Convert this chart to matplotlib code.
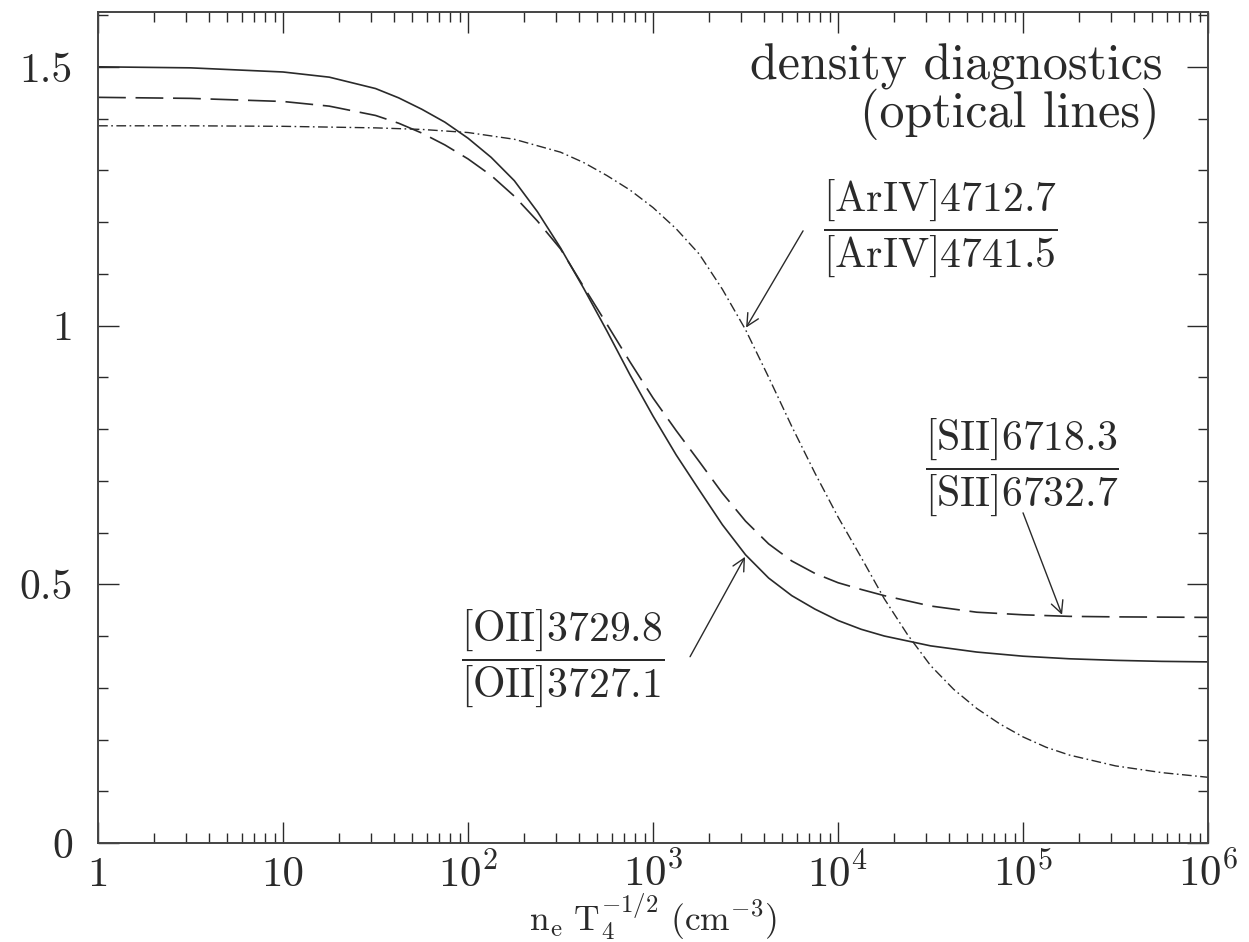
import numpy as np
import matplotlib
matplotlib.use("Agg")
import matplotlib.pyplot as plt
from matplotlib.ticker import LogLocator, MultipleLocator, NullFormatter

plt.rcParams['font.family'] = 'cmr10'
plt.rcParams['mathtext.fontset'] = 'cm'
plt.rcParams['axes.unicode_minus'] = False
plt.rcParams['axes.formatter.use_mathtext'] = True
plt.rcParams['lines.scale_dashes'] = False

# curves (log10 of n_e T4^-1/2, line ratio)
oii_logx = [0.0, 0.5, 1.0, 1.25, 1.5, 1.625, 1.75, 1.875, 2.0, 2.125, 2.25, 2.375, 2.5,
            2.625, 2.75, 2.875, 3.0, 3.125, 3.25, 3.375, 3.5, 3.625, 3.75, 3.875, 4.0,
            4.125, 4.25, 4.5, 4.75, 5.0, 5.25, 5.5, 5.75, 6.0]
oii_ratio = [1.500, 1.498, 1.490, 1.480, 1.458, 1.440, 1.418, 1.393, 1.362, 1.325, 1.280,
             1.220, 1.150, 1.072, 0.990, 0.905, 0.825, 0.750, 0.682, 0.615, 0.557, 0.512,
             0.478, 0.452, 0.430, 0.413, 0.400, 0.381, 0.369, 0.361, 0.356, 0.353, 0.351,
             0.350]

sii_logx = [0.0, 0.5, 1.0, 1.25, 1.5, 1.625, 1.75, 1.875, 2.0, 2.125, 2.25, 2.375, 2.5,
            2.625, 2.75, 2.875, 3.0, 3.125, 3.25, 3.375, 3.5, 3.625, 3.75, 3.875, 4.0,
            4.125, 4.25, 4.5, 4.75, 5.0, 5.25, 5.5, 6.0]
sii_ratio = [1.441, 1.439, 1.433, 1.424, 1.406, 1.391, 1.372, 1.349, 1.322, 1.290, 1.250,
             1.202, 1.148, 1.075, 1.003, 0.930, 0.860, 0.797, 0.737, 0.676, 0.622, 0.578,
             0.545, 0.521, 0.503, 0.490, 0.478, 0.458, 0.446, 0.441, 0.438, 0.437, 0.436]

ariv_logx = [0.0, 0.5, 1.0, 1.5, 1.75, 2.0, 2.25, 2.5, 2.625, 2.75, 2.875, 3.0, 3.125,
             3.25, 3.375, 3.5, 3.625, 3.75, 3.875, 4.0, 4.125, 4.25, 4.375, 4.5, 4.625,
             4.75, 4.875, 5.0, 5.125, 5.25, 5.5, 5.75, 6.0]
ariv_ratio = [1.386, 1.386, 1.385, 1.382, 1.379, 1.373, 1.360, 1.335, 1.315, 1.290, 1.262,
              1.228, 1.187, 1.138, 1.070, 0.992, 0.900, 0.805, 0.715, 0.630, 0.552, 0.472,
              0.403, 0.343, 0.297, 0.260, 0.230, 0.205, 0.185, 0.170, 0.149, 0.136, 0.127]

xticks = [1, 10, 1e2, 1e3, 1e4, 1e5, 1e6]
xticklabels = ['1', '10', r'$10^2$', r'$10^3$', r'$10^4$', r'$10^5$', r'$10^6$']
yticks = [0, 0.5, 1, 1.5]
yticklabels = ['0', '0.5', '1', '1.5']

ink = '#2a2a2a'

fig = plt.figure(figsize=(12.49, 9.42), dpi=100)
ax = fig.add_axes([0.0785, 0.1051, 0.8887, 0.8822])

ax.plot(10 ** np.array(oii_logx), oii_ratio, color=ink, lw=1.2)
ax.plot(10 ** np.array(sii_logx), sii_ratio, color=ink, lw=1.2, dashes=(20, 7))
ax.plot(10 ** np.array(ariv_logx), ariv_ratio, color=ink, lw=1.0, dashes=(7, 2.5, 1.2, 2.5))

ax.set_xscale('log')
ax.set_xlim(1, 1e6)
ax.set_ylim(0, 1.606)

ax.set_xticks(xticks)
ax.set_xticklabels([])
ax.xaxis.set_minor_locator(LogLocator(base=10, subs=np.arange(2, 10)))
ax.xaxis.set_minor_formatter(NullFormatter())
ax.set_yticks(yticks)
ax.set_yticklabels(yticklabels)
ax.yaxis.set_minor_locator(MultipleLocator(0.1))

ax.tick_params(which='both', direction='in', top=True, right=True, colors=ink)
ax.tick_params(which='major', length=15, width=1.0, labelsize=30, pad=18)
ax.tick_params(which='minor', length=7.5, width=1.0)
for s in ax.spines.values():
    s.set_color('#444444')
    s.set_linewidth(1.4)

# x tick labels aligned on a common baseline
xtr = ax.get_xaxis_transform()
for xv, lab in zip(xticks, xticklabels):
    ax.text(xv, -0.052, lab, transform=xtr, ha='center', va='baseline',
            fontsize=31, color=ink)

ax.set_xlabel(r'$\mathrm{n_e\ T_4^{-1/2}\ (cm^{-3})}$', fontsize=25.5, color=ink)
ax.xaxis.label.set_va('baseline')
ax.xaxis.set_label_coords(0.5, -0.1055)

# title text
ax.text(5.7e5, 1.475, 'density diagnostics', ha='right', va='baseline',
        fontsize=36, color=ink)
ax.text(5.5e5, 1.384, '(optical lines)', ha='right', va='baseline',
        fontsize=36, color=ink)

# line labels and arrows
lab_kw = dict(ha='center', va='center', fontsize=30, color=ink)
arr_kw = dict(arrowstyle='->', color=ink, lw=1.0, shrinkA=0, shrinkB=0,
              mutation_scale=22)

ax.text(326, 0.356, r'$\dfrac{\mathrm{[OII]3729.8}}{\mathrm{[OII]3727.1}}$', **lab_kw)
ax.annotate('', xy=(3142, 0.553), xytext=(1585, 0.36), arrowprops=arr_kw)

ax.text(98900, 0.727, r'$\dfrac{\mathrm{[SII]6718.3}}{\mathrm{[SII]6732.7}}$', **lab_kw)
ax.annotate('', xy=(162500, 0.441), xytext=(1.0e5, 0.638), arrowprops=arr_kw)

ax.text(35560, 1.187, r'$\dfrac{\mathrm{[ArIV]4712.7}}{\mathrm{[ArIV]4741.5}}$', **lab_kw)
ax.annotate('', xy=(3184, 0.996), xytext=(6470, 1.183), arrowprops=arr_kw)

fig.savefig('out.png', dpi=100)
